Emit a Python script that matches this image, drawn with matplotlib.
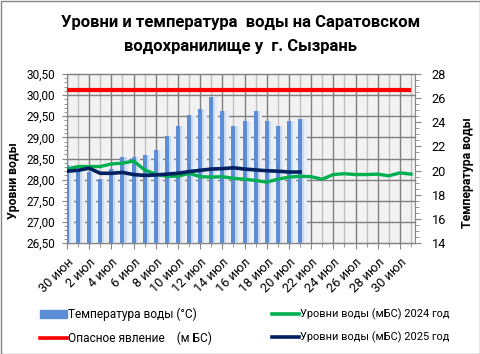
import numpy as np
import matplotlib
matplotlib.use("Agg")
import matplotlib.pyplot as plt
import matplotlib.transforms as mtransforms
from matplotlib.patches import Rectangle
from matplotlib.lines import Line2D
from matplotlib.ticker import MultipleLocator, FuncFormatter

plt.rcParams['font.family'] = ['Roboto', 'DejaVu Sans']

# ---------------- data ----------------
tick_labels = ['30 июн', '2 июл', '4 июл', '6 июл', '8 июл', '10 июл', '12 июл', '14 июл',
               '16 июл', '18 июл', '20 июл', '22 июл', '24 июл', '26 июл', '28 июл', '30 июл']

temperature = [20.5, 20.0, 19.9, 19.3, 20.1, 21.1, 21.1, 21.3, 21.7, 22.9, 23.7,
               24.6, 25.1, 26.1, 24.9, 23.7, 24.1, 24.9, 24.1, 23.7, 24.1, 24.3]

level_2024 = [28.25, 28.31, 28.31, 28.31, 28.37, 28.39, 28.44, 28.23, 28.13, 28.08, 28.08,
              28.15, 28.07, 28.06, 28.07, 28.03, 28.01, 27.98, 27.94, 28.01, 28.06, 28.08,
              28.07, 28.01, 28.12, 28.14, 28.12, 28.12, 28.13, 28.09, 28.16, 28.13]

level_2025 = [28.20, 28.22, 28.27, 28.15, 28.15, 28.17, 28.12, 28.10, 28.11, 28.13, 28.15,
              28.19, 28.22, 28.25, 28.26, 28.28, 28.25, 28.23, 28.21, 28.20, 28.18, 28.18]

danger_level = 30.12

title = "Уровни и температура  воды на Саратовском\nводохранилище у  г. Сызрань"
legend_labels = ['Температура воды (°С)', 'Опасное явление    (м БС)',
                 'Уровни воды (мБС) 2024 год', 'Уровни воды (мБС) 2025 год']

# ---------------- figure ----------------
W, H = 481, 354
fig = plt.figure(figsize=(W / 100, H / 100), dpi=100)
fig.patch.set_facecolor('white')

left, right, top, bottom = 67, 415, 74, 243
rect = [left / W, 1 - bottom / H, (right - left) / W, (bottom - top) / H]

ax2 = fig.add_axes(rect)             # temperature (right) - drawn below
ax = fig.add_axes(rect, sharex=ax2)  # levels (left) - drawn on top
ax.patch.set_visible(False)
ax2.set_facecolor('#F2F2F2')

x_all = np.arange(len(level_2024))
x_t = np.arange(len(temperature))
x_25 = np.arange(len(level_2025))

ax2.set_xlim(0, 31.36)
ax.set_ylim(26.5, 30.5)
ax2.set_ylim(14, 28)

# grid lines (drawn on the lower axes, behind the bars)
for d in x_all:
    ax2.axvline(d, color='#7F7F7F' if d % 2 == 0 else '#BFBFBF', lw=1.0, zorder=0.5)
blend = mtransforms.blended_transform_factory(ax2.transAxes, ax.transData)
for v in np.arange(26.5, 30.51, 0.5):
    ax2.plot([0, 1], [v, v], transform=blend, color='#7F7F7F', lw=1.0, zorder=0.6,
             clip_on=False)

# bars with soft shadow
ax2.bar(x_t + 0.40, temperature, width=0.42, color='#E8EDF6', zorder=1)
ax2.bar(x_t + 0.24, temperature, width=0.26, color='#CBD9F0', zorder=1.1)
ax2.bar(x_t, temperature, width=0.36, color='#5B8ED6', zorder=2)

# lines
ax.plot([x_all[0], x_all[-1]], [danger_level, danger_level], color='#FF0000', lw=3.0,
        solid_capstyle='butt', zorder=3)
ax.plot(x_all, level_2024, color='#00B050', lw=2.4, zorder=4)
ax.plot(x_25, level_2025, color='#002060', lw=2.6, zorder=5)

# axes styling
for a in (ax, ax2):
    for s in a.spines.values():
        s.set_visible(False)
ax.spines['left'].set_visible(True)
ax.spines['left'].set_color('#868686')
ax.spines['bottom'].set_visible(True)
ax.spines['bottom'].set_color('#868686')
ax2.spines['right'].set_visible(True)
ax2.spines['right'].set_color('#868686')

ax.yaxis.set_major_locator(MultipleLocator(0.5))
ax.yaxis.set_minor_locator(MultipleLocator(0.1))
ax.yaxis.set_major_formatter(FuncFormatter(lambda v, p: f"{v:.2f}".replace('.', ',')))
ax.tick_params(axis='y', which='major', length=3.5, color='#868686', labelsize=8.5, pad=5)
ax.tick_params(axis='y', which='minor', length=2, color='#868686')

ax2.yaxis.tick_right()
ax2.yaxis.set_label_position('right')
ax2.yaxis.set_major_locator(MultipleLocator(2))
ax2.yaxis.set_minor_locator(MultipleLocator(0.5))
ax2.tick_params(axis='y', which='major', length=4, color='#868686', labelsize=9.2, pad=8,
                left=False, labelleft=False)
ax2.tick_params(axis='y', which='minor', length=3, color='#868686', left=False)

ax.set_xticks(np.arange(0, 31, 2))
ax.set_xticklabels(tick_labels, rotation=45, ha='right', rotation_mode='anchor', fontsize=9.2)
ax.set_xticks(x_all, minor=True)
ax.tick_params(axis='x', which='major', length=4, color='#868686', pad=5)
ax.tick_params(axis='x', which='minor', length=3, color='#868686')
ax2.tick_params(axis='x', which='both', bottom=False, labelbottom=False)

ax.set_ylabel('Уровни воды', fontsize=8.8, fontweight='bold')
ax.yaxis.set_label_coords(-0.135, 0.37)
ax2.set_ylabel('Температура воды', fontsize=8.8, fontweight='bold')
ax2.yaxis.set_label_coords(1.133, 0.414)

fig.text(0.5, 1 - 34 / H, title, ha='center', va='center', fontsize=12, fontweight='bold',
         linespacing=1.75)

# legend (two columns placed separately)
h_temp = Rectangle((0, 0), 1, 1, color='#5B8ED6')
h_red = Line2D([], [], color='#FF0000', lw=2.6)
h_green = Line2D([], [], color='#00B050', lw=2.6)
h_navy = Line2D([], [], color='#002060', lw=2.6)
common = dict(loc='upper left', frameon=False, handleheight=0.65, borderpad=0)
fig.legend([h_temp, h_red], legend_labels[:2], bbox_to_anchor=(34 / W, 1 - 302 / H),
           fontsize=8.6, handlelength=2.25, handletextpad=0.1, labelspacing=0.85, **common)
fig.legend([h_green, h_navy], legend_labels[2:], bbox_to_anchor=(267 / W, 1 - 303 / H),
           fontsize=7.9, handlelength=2.45, handletextpad=0.1, labelspacing=1.05, **common)

# chart border
fig.add_artist(Rectangle((0.5 / W, 0.5 / H), 1 - 1.5 / W, 1 - 1.5 / H, transform=fig.transFigure,
                         fill=False, edgecolor='#868686', lw=1.0))

fig.savefig('out.png', dpi=100)
